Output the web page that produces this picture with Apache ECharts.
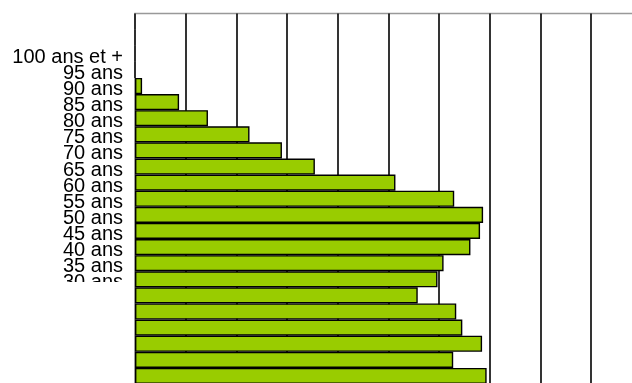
<!DOCTYPE html>
<html>
<head>
<meta charset="utf-8">
<script src="https://cdn.jsdelivr.net/npm/echarts@6/dist/echarts.min.js"></script>
<style>
  html, body { margin: 0; padding: 0; background: #fff; }
  #myEcharts { width: 632px; height: 383px; }
</style>
</head>
<body>
<div id="myEcharts"></div>
<script>
// age groups, top to bottom (two empty rows above "100 ans et +")
const ageGroups = ["", "", "100 ans et +", "95 ans", "90 ans", "85 ans", "80 ans", "75 ans", "70 ans",
  "65 ans", "60 ans", "55 ans", "50 ans", "45 ans", "40 ans", "35 ans", "30 ans",
  "25 ans", "20 ans", "15 ans", "10 ans", "5 ans", "0 an"]
const population = [0, 0, 0, 0, 14, 87, 144, 226, 290, 355, 514, 630, 687, 681, 662, 609, 597,
  558, 634, 646, 685, 628, 694]

const chart = echarts.init(document.getElementById("myEcharts"))
chart.setOption({
  animation: false,
  grid: {
    left: 135,
    top: 13.5,
    width: 506.7,
    height: 370.5,
    outerBoundsMode: "none",
    containLabel: false,
    show: true,
    borderColor: "#999",
    borderWidth: 1.5
  },
  xAxis: {
    type: "value",
    min: 0,
    max: 1000,
    interval: 100,
    axisLabel: { show: false },
    axisTick: { show: false },
    axisLine: { show: false },
    splitLine: {
      show: true,
      lineStyle: {
        color: ["#999", "#000", "#000", "#000", "#000", "#000", "#000", "#000", "#000", "#000", "#000"],
        width: 1.6
      }
    }
  },
  yAxis: {
    type: "category",
    inverse: true,
    data: ageGroups,
    axisTick: { show: false },
    axisLine: { show: false },
    axisLabel: {
      interval: 0,
      margin: 12,
      formatter: (v) => v ? "{a|" + v + "}" : "",
      rich: {
        a: {
          color: "#000",
          fontFamily: "Liberation Sans",
          fontSize: 20,
          padding: [7, 0, 0, 0]
        }
      }
    }
  },
  series: [
    {
      type: "bar",
      data: population,
      barCategoryGap: "0%",
      itemStyle: {
        color: "#99cc00",
        borderColor: "#000",
        borderWidth: 1.4
      }
    }
  ],
  graphic: [
    {
      // cover the label column below "30 ans"
      type: "rect",
      z: 100,
      shape: { x: 0, y: 282, width: 131, height: 110 },
      style: { fill: "#fff" }
    }
  ]
})
</script>
</body>
</html>
